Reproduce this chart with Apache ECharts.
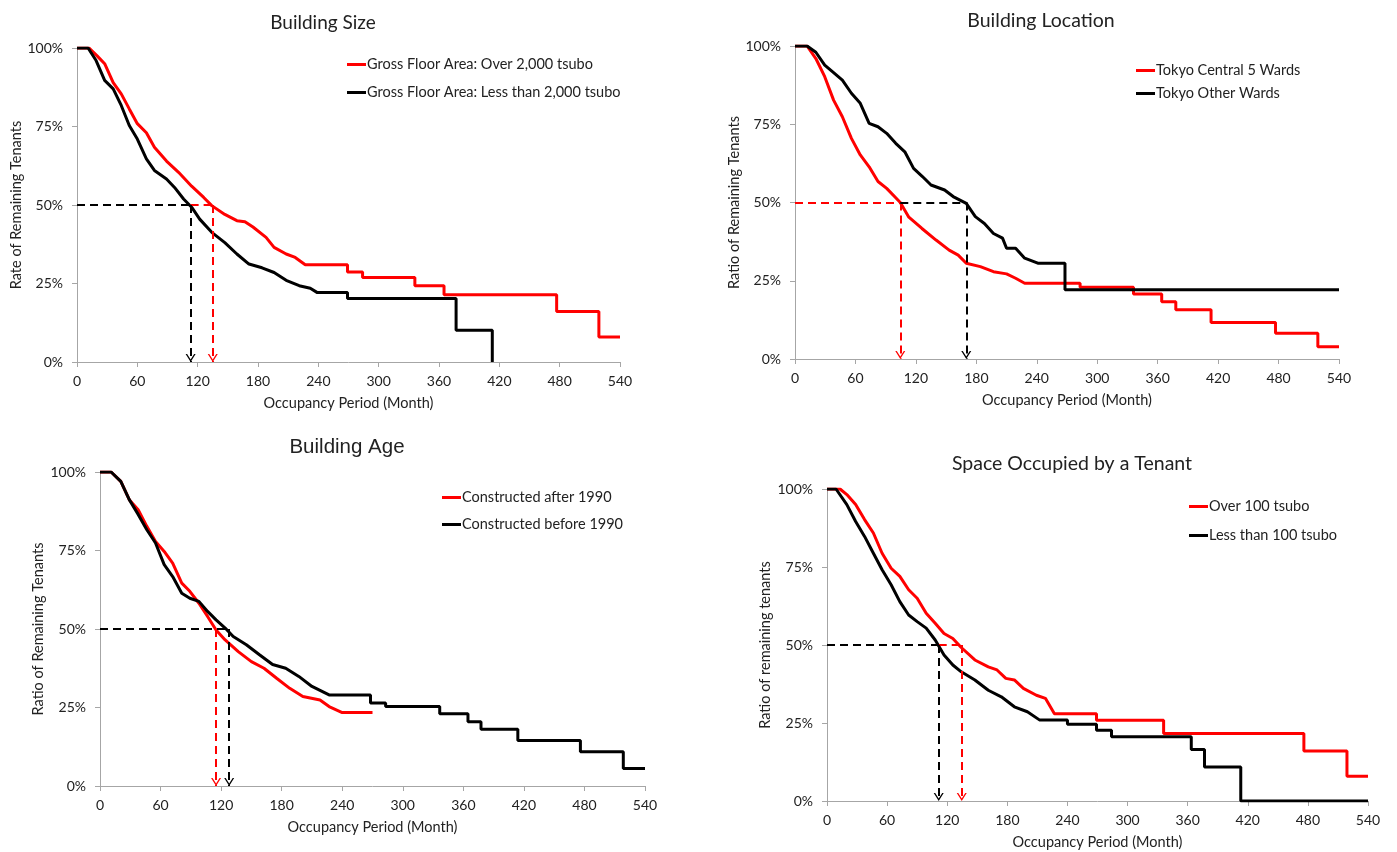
<!DOCTYPE html>
<html>
<head>
<meta charset="utf-8">
<script src="https://cdn.jsdelivr.net/npm/echarts@6.0.0/dist/echarts.min.js"></script>
<style>
  html, body { margin: 0; padding: 0; background: #fff; }
  #chart { width: 1397px; height: 852px; }
</style>
</head>
<body>
<div id="chart"></div>
<script>
// survival curves, [month, % remaining]
const sizeOver = [[0,100],[12,100],[20,97.5],[27.5,95],[36,89],[44,85.4],[52,80.6],[60,75.9],[69,73],[77,68.4],[89,64],[101,60.4],[114,56],[126,52.4],[134,49.8],[147,47],[159,45],[167,44.7],[175,43],[188,39.7],[196,36.5],[208,34.4],[217,33.3],[227,31],[269,31],[269,28.7],[284,28.7],[284,26.9],[336,26.9],[336,24.3],[365,24.3],[365,21.4],[477,21.4],[477,16.1],[519,16.1],[519,8],[540,8]];
const sizeUnder = [[0,100],[11,100],[19,96],[27.5,89.7],[36,87],[44,81.7],[52,75.3],[60,71],[69,64.7],[77,61],[89,58.3],[97,55.6],[106,51.9],[114,49.3],[122,45.5],[134,41.3],[147,38],[159,34.4],[171,31.2],[184,30],[196,28.5],[208,26],[221,24.3],[232,23.5],[239,22.1],[269,22.1],[269,20.2],[377,20.2],[377,10.1],[413,10.1],[413,0]];

const locCentral = [[0,100],[12,100],[20.7,96],[29.5,90.2],[38.3,82.7],[47,77.4],[56,70.5],[64.8,65.2],[73.6,61.4],[82.4,56.7],[91,54.5],[100,51.5],[104.5,50],[113,45.3],[126,41.7],[140,38],[153,34.8],[162,33.2],[170,30.6],[184,29.5],[197,27.9],[210,27.2],[219,25.8],[228,24.2],[283,24.2],[283,22.9],[336,22.9],[336,20.8],[364,20.8],[364,18.3],[378,18.3],[378,15.7],[413,15.7],[413,11.7],[477,11.7],[477,8.2],[519,8.2],[519,3.9],[540,3.9]];
const locOther = [[0,100],[12,100],[20.7,98],[29.5,93.9],[38.3,91.5],[47,89.1],[56,84.9],[64.8,81.7],[73.6,75.3],[82.4,74.2],[91,72.1],[100,68.9],[109,66.2],[117.7,60.9],[126.5,58.3],[135,55.6],[148.5,54],[157,51.9],[170,49.7],[179,45.5],[188,43.3],[197,40.1],[206,38.6],[210,35.4],[219,35.4],[228,32.2],[241,30.6],[268,30.6],[268,22.1],[540,22.1]];

const ageAfter = [[0,100],[11,100],[20.6,97],[29,91.2],[37.8,88],[46.4,82.7],[55,77.9],[63.6,74.7],[72,71],[81,64.6],[89,62],[98,58.2],[106.6,54],[115,49.7],[124,46.5],[137,42.8],[150,39.6],[162.5,37.5],[175,34.3],[188,31.1],[201,28.5],[218,27.4],[227,25.3],[240,23.4],[270,23.4]];
const ageBefore = [[0,100],[11,100],[20.6,97],[29,91.2],[37.8,86.5],[46.4,81.6],[55,77.4],[63.6,70.5],[72,66.7],[81,61.4],[89,59.8],[98,58.8],[106.6,55.6],[115,52.9],[124,50.3],[132,47.6],[145,45],[158,41.8],[171,38.7],[184,37.5],[197,34.9],[210,31.7],[227,29],[268,29],[268,26.4],[283,26.4],[283,25.3],[336.6,25.3],[336.6,23],[364.6,23],[364.6,20.5],[377.5,20.5],[377.5,18.1],[414,18.1],[414,14.5],[476,14.5],[476,10.9],[518.5,10.9],[518.5,5.6],[540,5.6]];

const spaceOver = [[0,100],[13,100],[19.8,98.2],[28.6,95],[37.5,90.2],[46.3,85.9],[55,79.4],[64,74.6],[72.7,72],[81.5,67.7],[90,65],[99,60.2],[108,57],[116.8,53.7],[125.6,52.1],[134,49.2],[147.6,45.2],[161,43],[169.7,42],[178.5,39.3],[187,38.8],[196,36.1],[209,33.9],[218,32.9],[227,28],[269,28],[269,25.9],[336,25.9],[336,21.6],[476,21.6],[476,16],[519,16],[519,7.9],[540,7.9]];
const spaceUnder = [[0,100],[9,100],[19.8,95],[28.6,89.6],[37.5,84.8],[46.3,79.4],[55,74.1],[64,69.3],[72.7,63.9],[81.5,59.6],[90,57.5],[99,55.4],[108,51.6],[116.8,46.8],[125.6,43.6],[134,41.4],[147.6,38.8],[161,35.5],[174,33.4],[187,30.2],[200,28.6],[212,26],[240,26],[240,24.6],[269,24.6],[269,22.7],[284,22.7],[284,20.6],[363.6,20.6],[363.6,16.5],[376.8,16.5],[376.8,10.9],[413,10.9],[413,0],[540,0]];

// median months (where each curve crosses 50%)
const sizeMedian = { under: 113, over: 135 };
const locMedian = { central: 104.5, other: 170 };
const ageMedian = { after: 115, before: 128 };
const spaceMedian = { under: 111.5, over: 134.5 };

const titles = ["Building Size", "Building Location", "Building Age", "Space Occupied by a Tenant"];
const yNames = ["Rate of Remaining Tenants", "Ratio of Remaining Tenants", "Ratio of Remaining Tenants", "Ratio of remaining tenants"];
const xName = "Occupancy Period (Month)";

const RED = "#ff0000";
const BLACK = "#000000";
const FONT = "Lato";
const TXT = "#222";
const ARROW = "path://M0,10 L6,0 L12,10 L10.2,10 L6,3.2 L1.8,10 Z";

const grids = [
  { left: 77, top: 48, width: 543, height: 314 },
  { left: 795, top: 46, width: 544, height: 313 },
  { left: 100, top: 472, width: 545, height: 314 },
  { left: 827, top: 489, width: 541, height: 312 }
];

const axisGray = "#a6a6a6";
const xAxes = grids.map((g, i) => ({
  gridIndex: i,
  type: "value",
  min: 0,
  max: 540,
  interval: 60,
  name: xName,
  nameLocation: "middle",
  nameGap: 34,
  nameTextStyle: { fontFamily: FONT, fontSize: 14.5, color: TXT },
  axisLine: { lineStyle: { color: axisGray } },
  axisTick: { length: 5, lineStyle: { color: axisGray } },
  axisLabel: { margin: 12, fontFamily: FONT, fontSize: 14, color: TXT },
  splitLine: { show: false }
}));
const yAxes = grids.map((g, i) => ({
  gridIndex: i,
  type: "value",
  min: 0,
  max: 100,
  interval: 25,
  name: yNames[i],
  nameLocation: "middle",
  nameGap: i < 2 ? 53 : 54,
  nameTextStyle: { fontFamily: FONT, fontSize: 14.5, color: TXT },
  axisLine: { show: true, lineStyle: { color: axisGray } },
  axisTick: { show: true, length: 5, lineStyle: { color: axisGray } },
  axisLabel: { margin: 14, fontFamily: FONT, fontSize: 14, color: TXT, formatter: "{value}%" },
  splitLine: { show: false }
}));

const dash = color => ({ color, type: [8, 5], width: 2 });
const hLine = (x0, x1, color) => [
  { coord: [x0, 50], lineStyle: dash(color) },
  { coord: [x1, 50] }
];
const arrow = (x, color) => [
  { coord: [x, 50], lineStyle: dash(color) },
  { coord: [x, 0], symbol: ARROW, symbolSize: [10, 8], symbolOffset: [0, "50%"] }
];

const curve = (name, color, data, idx, marks) => ({
  name,
  type: "line",
  xAxisIndex: idx,
  yAxisIndex: idx,
  data,
  color,
  symbol: "none",
  showSymbol: false,
  silent: true,
  lineStyle: { width: 3, color },
  markLine: {
    silent: true,
    symbol: "none",
    label: { show: false },
    animation: false,
    data: marks
  }
});

const names = {
  sizeOver: "Gross Floor Area: Over 2,000 tsubo",
  sizeUnder: "Gross Floor Area: Less than 2,000 tsubo",
  locCentral: "Tokyo Central 5 Wards",
  locOther: "Tokyo Other Wards",
  ageAfter: "Constructed after 1990",
  ageBefore: "Constructed before 1990",
  spaceOver: "Over 100 tsubo",
  spaceUnder: "Less than 100 tsubo"
};

const series = [
  curve(names.sizeOver, RED, sizeOver, 0, [
    hLine(sizeMedian.under, sizeMedian.over, RED),
    arrow(sizeMedian.over, RED)
  ]),
  curve(names.sizeUnder, BLACK, sizeUnder, 0, [
    hLine(0, sizeMedian.under, BLACK),
    arrow(sizeMedian.under, BLACK)
  ]),
  curve(names.locCentral, RED, locCentral, 1, [
    hLine(0, locMedian.central, RED),
    arrow(locMedian.central, RED)
  ]),
  curve(names.locOther, BLACK, locOther, 1, [
    hLine(locMedian.central, locMedian.other, BLACK),
    arrow(locMedian.other, BLACK)
  ]),
  curve(names.ageAfter, RED, ageAfter, 2, [
    arrow(ageMedian.after, RED)
  ]),
  curve(names.ageBefore, BLACK, ageBefore, 2, [
    hLine(0, ageMedian.before, BLACK),
    arrow(ageMedian.before, BLACK)
  ]),
  curve(names.spaceOver, RED, spaceOver, 3, [
    hLine(spaceMedian.under, spaceMedian.over, RED),
    arrow(spaceMedian.over, RED)
  ]),
  curve(names.spaceUnder, BLACK, spaceUnder, 3, [
    hLine(0, spaceMedian.under, BLACK),
    arrow(spaceMedian.under, BLACK)
  ])
];

const legendBox = (left, top, gap, items) => ({
  orient: "vertical",
  left,
  top,
  itemGap: gap,
  itemWidth: 19,
  itemHeight: 3,
  icon: "rect",
  selectedMode: false,
  data: items,
  textStyle: { fontFamily: FONT, fontSize: 14.5, color: TXT, padding: [0, 0, 0, -4] }
});

const titleBox = (text, left, top, font, size) => ({
  text,
  left,
  top,
  textAlign: "center",
  textStyle: { fontFamily: font, fontSize: size, fontWeight: "normal", color: TXT }
});

const chart = echarts.init(document.getElementById("chart"), null, { renderer: "canvas" });
chart.setOption({
  backgroundColor: "#fff",
  animation: false,
  title: [
    titleBox(titles[0], 318, 8, FONT, 19),
    titleBox(titles[1], 1036, 6, FONT, 19.5),
    titleBox(titles[2], 342, 432, "Liberation Sans", 20.5),
    titleBox(titles[3], 1067, 449, FONT, 19.5)
  ],
  legend: [
    legendBox(342, 52, 13, [names.sizeOver, names.sizeUnder]),
    legendBox(1131, 58, 8, [names.locCentral, names.locOther]),
    legendBox(437, 485, 12, [names.ageAfter, names.ageBefore]),
    legendBox(1184, 494, 14, [names.spaceOver, names.spaceUnder])
  ],
  grid: grids,
  xAxis: xAxes,
  yAxis: yAxes,
  series
});
</script>
</body>
</html>
